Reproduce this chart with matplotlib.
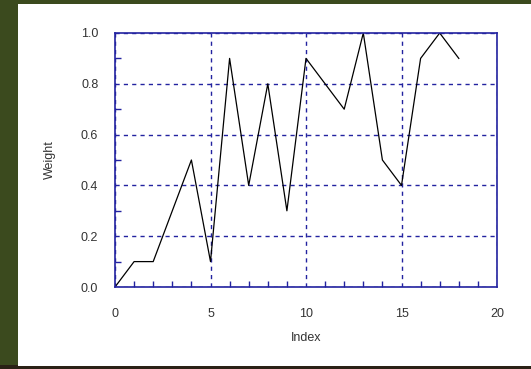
import numpy as np
import matplotlib.pyplot as plt
from matplotlib.patches import Rectangle
from matplotlib.ticker import MultipleLocator

# Datos
indice = np.arange(19)
peso = [0.0, 0.1, 0.1, 0.3, 0.5, 0.1, 0.9, 0.4, 0.8, 0.3,
        0.9, 0.8, 0.7, 1.0, 0.5, 0.4, 0.9, 1.0, 0.9]

azul = '#2323a0'
texto = '#333333'
plt.rcParams['font.family'] = ['Liberation Sans', 'DejaVu Sans']

fig = plt.figure(figsize=(5.31, 3.69), dpi=100)
fig.patch.set_facecolor('#3b4a1e')

# fondo oscuro abajo y panel blanco
fig.patches.append(Rectangle((0, 0), 1, 0.012, transform=fig.transFigure,
                             facecolor='#2a2115', edgecolor='none', zorder=-2))
fig.patches.append(Rectangle((18 / 531, 3 / 369), 1, 1 - 7 / 369,
                             transform=fig.transFigure, facecolor='white',
                             edgecolor='none', zorder=-1))

ax = fig.add_axes([115 / 531, 1 - 287 / 369, 382 / 531, 254 / 369])
ax.set_zorder(2)
ax.plot(indice, peso, color='black', linewidth=0.9)

ax.set_xlim(0, 20)
ax.set_ylim(0, 1.0)
ax.xaxis.set_major_locator(MultipleLocator(5))
ax.xaxis.set_minor_locator(MultipleLocator(1))
ax.yaxis.set_major_locator(MultipleLocator(0.2))
ax.yaxis.set_minor_locator(MultipleLocator(0.1))
ax.yaxis.set_major_formatter(plt.FormatStrFormatter('%.1f'))

ax.grid(True, which='major', color=azul, linestyle=(0, (3, 3)), linewidth=1.0)
for s in ax.spines.values():
    s.set_color(azul)
    s.set_linewidth(1.2)
ax.tick_params(which='both', direction='in', color=azul, top=False, right=False,
               labelsize=9, labelcolor=texto, width=1.0)
ax.tick_params(axis='x', which='major', length=0, pad=15)
ax.tick_params(axis='y', which='major', length=0, pad=12)
ax.tick_params(which='minor', length=4)

ax.set_xlabel('Index', fontsize=9, labelpad=9, color=texto)
ax.set_ylabel('Weight', fontsize=9, labelpad=18, color=texto)

fig.savefig('out.png', dpi=100, facecolor=fig.get_facecolor())
